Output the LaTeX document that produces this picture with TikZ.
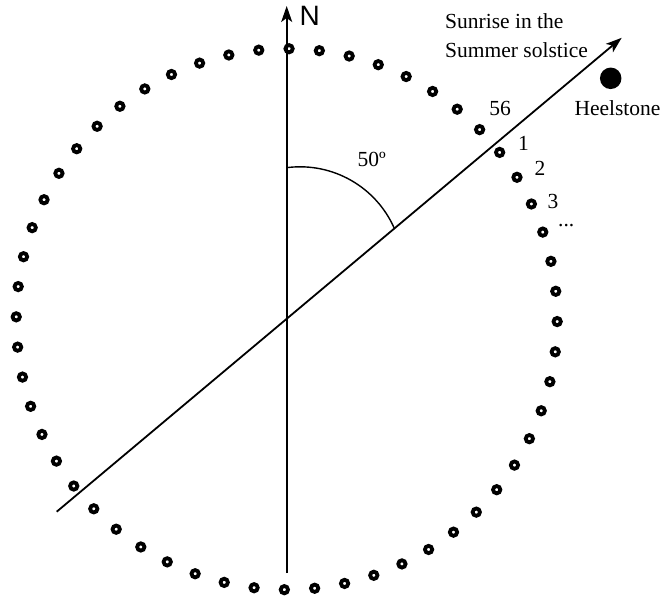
\documentclass[tikz,border=0pt]{standalone}
\usepackage{fontspec}
\setmainfont{Liberation Serif}
\newfontfamily\labelsans{Liberation Sans}
\usetikzlibrary{arrows.meta}
\tikzset{
  stone/.style={circle,draw=black,line width=3.8pt,minimum size=7.3pt,inner sep=0pt},
  axisline/.style={line width=1.8pt,-{Stealth[length=16pt,width=11pt,inset=4pt]}},
  lbl/.style={inner sep=0pt,font=\fontsize{21.5}{27}\selectfont},
}
\begin{document}
\begin{tikzpicture}[x=1pt,y=-1pt]
\useasboundingbox (0,0) rectangle (663,600);
% stones
\foreach \k in {0,...,55}{
  \pgfmathsetmacro{\a}{0.5+\k*6.4285714}
  \node[stone] (s\k) at ({286.7+270.5*sin(\a)},{319.2-270.5*cos(\a)}) {};
}
% axes
\coordinate (nbot) at (286.7,573);
\coordinate (ntop) at (286.7,6);
\coordinate (sw) at (56.7,511.7);
\coordinate (ne) at (621.7,37.8);
\draw[axisline] (nbot) -- (ntop);
\draw[axisline] (sw) -- (ne);
% angle arc
\draw[line width=1.4pt] (288,167.5) arc[start angle=-96.7,end angle=-23.8,radius=103];
% heelstone
\node[circle,fill=black,minimum size=21.5pt,inner sep=0pt] (heel) at (610.7,78.3) {};
% labels
\node[inner sep=0pt,anchor=base west,font=\labelsans\fontsize{28}{30}\selectfont] (nlbl) at (299.5,25) {N};
\node[lbl,anchor=base west] (sun1) at (445,28) {Sunrise in the};
\node[lbl,anchor=base west] (sun2) at (445,57) {Summer solstice};
\node[lbl,anchor=base] (heellbl) at (617.5,115) {Heelstone};
\node[lbl,anchor=base west] (ang) at (357.5,166.7) {50º};
\node[lbl,anchor=base] (l56) at (500,115.5) {56};
\node[lbl,anchor=base] (l1) at (523.5,150) {1};
\node[lbl,anchor=base] (l2) at (540,175) {2};
\node[lbl,anchor=base] (l3) at (553,208) {3};
\node[lbl,anchor=base west] (ldots) at (558,226) {...};
\end{tikzpicture}
\end{document}
